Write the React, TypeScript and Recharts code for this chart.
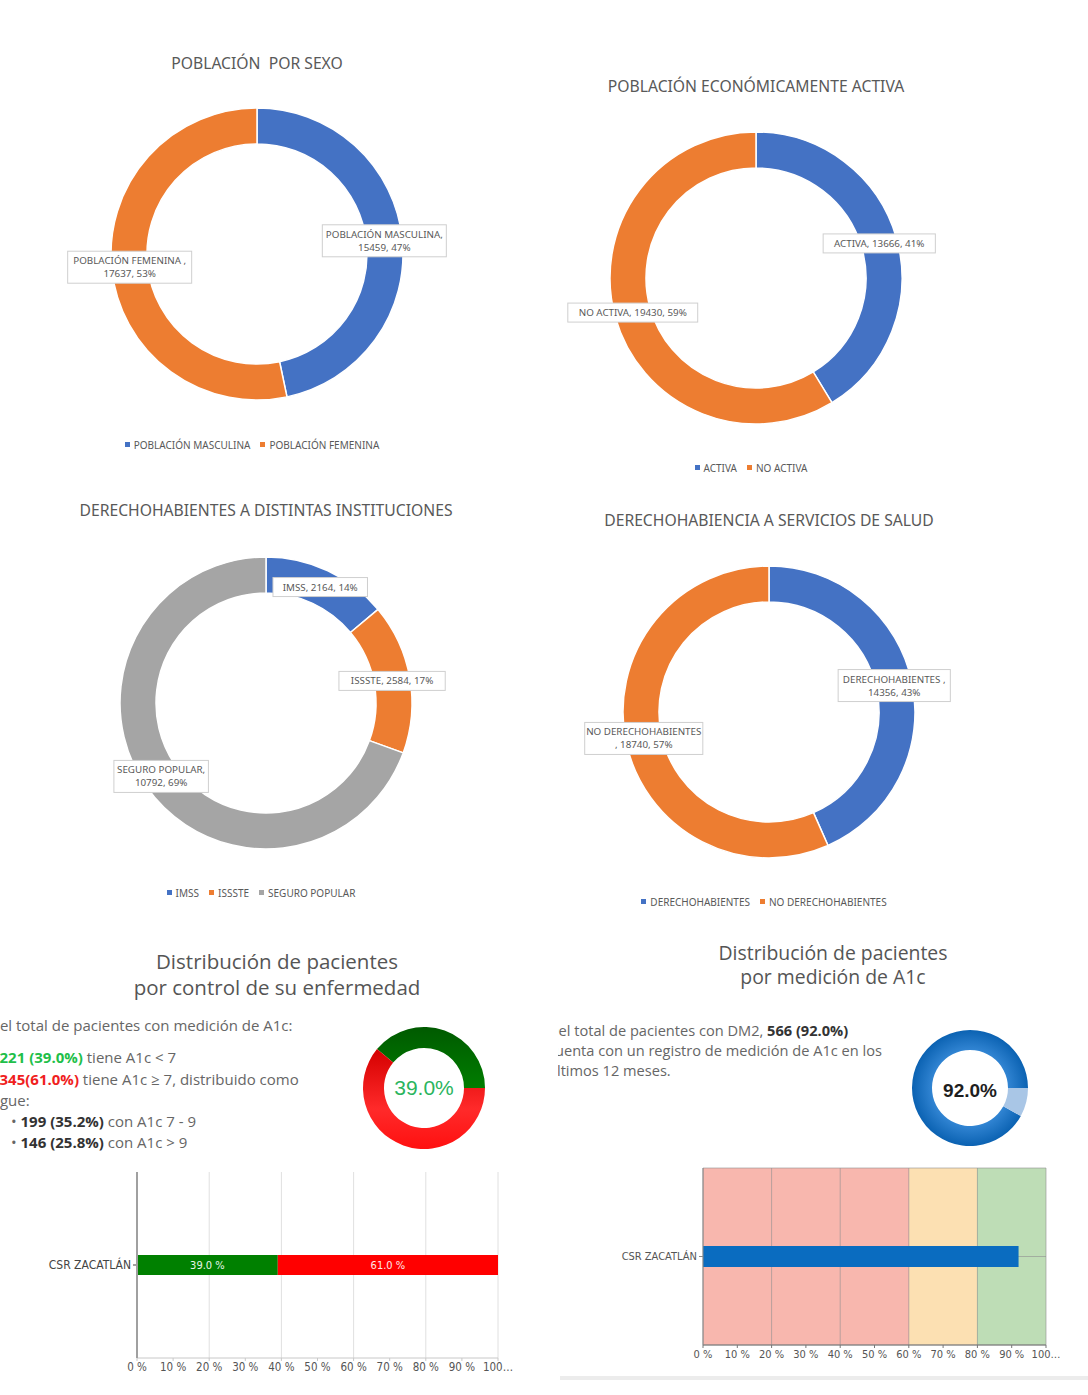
import React from 'react';
import {
  PieChart,
  Pie,
  Cell,
  Legend,
  Label,
  BarChart,
  Bar,
  XAxis,
  YAxis,
  CartesianGrid,
  LabelList,
} from 'recharts';

// --- data ---
const sexNames = ['POBLACIÓN MASCULINA', 'POBLACIÓN FEMENINA'];
const sexValues = [15459, 17637];
const sexLabels = [['POBLACIÓN MASCULINA,', '15459, 47%'], ['POBLACIÓN FEMENINA ,', '17637, 53%']];

const peaNames = ['ACTIVA', 'NO ACTIVA'];
const peaValues = [13666, 19430];
const peaLabels = [['ACTIVA, 13666, 41%'], ['NO ACTIVA, 19430, 59%']];

const instNames = ['IMSS', 'ISSSTE', 'SEGURO POPULAR'];
const instValues = [2164, 2584, 10792];
const instLabels = [['IMSS, 2164, 14%'], ['ISSSTE, 2584, 17%'], ['SEGURO POPULAR,', '10792, 69%']];

const derNames = ['DERECHOHABIENTES', 'NO DERECHOHABIENTES'];
const derValues = [14356, 18740];
const derLabels = [['DERECHOHABIENTES ,', '14356, 43%'], ['NO DERECHOHABIENTES', ', 18740, 57%']];

const unitNames = ['CSR ZACATLÁN'];
const controlled = [39.0];
const uncontrolled = [61.0];
const controlNames = ['A1c < 7', 'A1c ≥ 7'];
const controlShare = [39.0, 61.0];
const measured = [92.0];
const measureNames = ['Con medición', 'Sin medición'];
const measureShare = [92.0, 8.0];

const pctTicks = [0, 10, 20, 30, 40, 50, 60, 70, 80, 90, 100];
const gridTicks = [0, 20, 40, 60, 80, 100];
const bandEdges = [0, 60, 80, 100];

const OFFICE = ['#4472C4', '#ED7D31', '#A5A5A5'];
const BANDS = ['#F8B7AE', '#FCE0B2', '#BEDDB6'];
const RAD = Math.PI / 180;
const GRAY = '#595959';
const EXCEL_FONT = "'Noto Sans', 'Open Sans', sans-serif";
const WEB_FONT = "'Open Sans', 'Noto Sans', sans-serif";
const AXIS_FONT = "'Liberation Sans Narrow', 'DejaVu Sans Condensed', Roboto, sans-serif";
const NO_MARGIN = { top: 0, right: 0, bottom: 0, left: 0 };

const toRows = (names: string[], values: number[]) => names.map((name, i) => ({ name, value: values[i] }));

// colour of each 20% stripe, taken from the band it falls in
const stripeFills = gridTicks.slice(0, -1).map(t => {
  const b = bandEdges.findIndex((e, i) => t >= e && t < bandEdges[i + 1]);
  return BANDS[b];
});

const boxLabel = (lines: string[][]) => (props: any) => {
  const { cx, cy, midAngle, innerRadius, outerRadius, index } = props;
  const r = (innerRadius + outerRadius) / 2;
  const x = cx + r * Math.cos(-midAngle * RAD);
  const y = cy + r * Math.sin(-midAngle * RAD);
  const ls = lines[index];
  const w = Math.max(...ls.map(l => l.length)) * 5.9 + 6;
  const h = ls.length * 13 + 6;
  return (
    <g key={`lbl-${index}`}>
      <rect x={x - w / 2} y={y - h / 2} width={w} height={h} fill="#fff" stroke="#cfcfcf" />
      {ls.map((l, i) => (
        <text key={i} x={x} y={y - h / 2 + 13 + i * 13} textAnchor="middle" fontSize={9.8} fill={GRAY} fontFamily={EXCEL_FONT}>
          {l}
        </text>
      ))}
    </g>
  );
};

interface DonutProps {
  cx: number;
  cy: number;
  title: string;
  titleY: number;
  legendY: number;
  names: string[];
  values: number[];
  labels: string[][];
}

function ExcelDonut({ cx, cy, title, titleY, legendY, names, values, labels }: DonutProps) {
  const data = toRows(names, values);
  const top = cy - 230;
  return (
    <>
      <div
        style={{
          position: 'absolute', left: cx - 300, width: 600, top: titleY - 11, textAlign: 'center',
          fontFamily: EXCEL_FONT, fontSize: 15.7, color: GRAY, whiteSpace: 'pre', lineHeight: '22px',
        }}
      >
        {title}
      </div>
      <div style={{ position: 'absolute', left: cx - 260, top }}>
        <PieChart width={520} height={470} margin={NO_MARGIN}>
          <Pie
            data={data}
            dataKey="value"
            nameKey="name"
            cx={260}
            cy={230}
            innerRadius={110}
            outerRadius={146}
            startAngle={90}
            endAngle={-270}
            stroke="#fff"
            strokeWidth={1.5}
            label={boxLabel(labels)}
            labelLine={false}
            isAnimationActive={false}
          >
            {data.map((d, i) => (
              <Cell key={d.name} fill={OFFICE[i % OFFICE.length]} />
            ))}
          </Pie>
          <Legend
            iconType="square"
            iconSize={5}
            itemSorter={(item: any) => names.indexOf(item.value)}
            wrapperStyle={{ top: legendY - top - 12, left: 0, width: 520, fontFamily: EXCEL_FONT }}
            formatter={(v: any) => <span style={{ color: GRAY, fontSize: 10 }}>{v}</span>}
          />
        </PieChart>
      </div>
    </>
  );
}

const tickPct = (v: number) => (v === 100 ? '100…' : `${v} %`);

function TitleLines({ lines, cx, firstY, step, size }: { lines: string[]; cx: number; firstY: number; step: number; size: number }) {
  return (
    <>
      {lines.map((t, i) => (
        <div
          key={t}
          style={{
            position: 'absolute', left: cx - 280, width: 560, top: firstY + i * step - step / 2, height: step, textAlign: 'center',
            fontFamily: WEB_FONT, fontSize: size, color: '#555', lineHeight: `${step}px`, whiteSpace: 'nowrap',
          }}
        >
          {t}
        </div>
      ))}
    </>
  );
}

function ControlPanel() {
  const gauge = toRows(controlNames, controlShare);
  const bars = unitNames.map((name, i) => ({ name, ok: controlled[i], bad: uncontrolled[i] }));
  const line = { position: 'absolute' as const, left: -11, whiteSpace: 'nowrap' as const };
  return (
    <>
      <TitleLines lines={['Distribución de pacientes', 'por control de su enfermedad']} cx={277} firstY={961} step={26} size={20.5} />
      <div style={{ position: 'absolute', left: 0, top: 1014, width: 350, height: 142, overflow: 'hidden', fontFamily: WEB_FONT, fontSize: 15, color: '#666' }}>
        <div style={{ ...line, top: 1 }}>Del total de pacientes con medición de A1c:</div>
        <div style={{ ...line, top: 33, left: -10 }}>
          • <b style={{ color: '#1fbf4a' }}>221 (39.0%)</b> tiene A1c &lt; 7
        </div>
        <div style={{ ...line, top: 55, left: -10 }}>
          • <b style={{ color: '#f01e1e' }}>345(61.0%)</b> tiene A1c ≥ 7, distribuido como
        </div>
        <div style={{ ...line, top: 76 }}>sigue:</div>
        <div style={{ ...line, top: 97, left: 11 }}>
          • <b style={{ color: '#333' }}>199 (35.2%)</b> con A1c 7 - 9
        </div>
        <div style={{ ...line, top: 118, left: 11 }}>
          • <b style={{ color: '#333' }}>146 (25.8%)</b> con A1c &gt; 9
        </div>
      </div>
      <div style={{ position: 'absolute', left: 354, top: 1018 }}>
        <PieChart width={140} height={140} margin={NO_MARGIN}>
          <defs>
            <linearGradient id="gGreen" x1="0" y1="0" x2="0" y2="1">
              <stop offset="0%" stopColor="#005a00" />
              <stop offset="100%" stopColor="#007d00" />
            </linearGradient>
            <linearGradient id="gRed" x1="0" y1="0" x2="0" y2="1">
              <stop offset="0%" stopColor="#d40000" />
              <stop offset="60%" stopColor="#ff2a2a" />
              <stop offset="100%" stopColor="#ff1010" />
            </linearGradient>
          </defs>
          <Pie
            data={gauge}
            dataKey="value"
            nameKey="name"
            cx={70}
            cy={70}
            innerRadius={40}
            outerRadius={61}
            startAngle={0}
            endAngle={360}
            stroke="none"
            isAnimationActive={false}
          >
            <Cell fill="url(#gGreen)" />
            <Cell fill="url(#gRed)" />
            <Label value="39.0%" position="center" fill="#2bb55e" fontSize={21} fontFamily="'Liberation Sans', Arial, sans-serif" />
          </Pie>
        </PieChart>
      </div>
      <div style={{ position: 'absolute', left: 0, top: 1160 }}>
        <BarChart layout="vertical" width={540} height={225} data={bars} margin={{ top: 12, right: 42, bottom: 7, left: 0 }} barSize={20}>
          <CartesianGrid horizontal={false} verticalValues={gridTicks} stroke="#e0e0e0" />
          <XAxis
            type="number"
            domain={[0, 100]}
            ticks={pctTicks}
            tickFormatter={tickPct}
            height={20}
            tick={{ fontSize: 11.5, fill: '#555', fontFamily: AXIS_FONT }}
            tickSize={3}
            stroke="#c8c8c8"
            interval={0}
          />
          <YAxis
            type="category"
            dataKey="name"
            width={137}
            tick={{ fontSize: 12, fill: '#444', fontFamily: AXIS_FONT }}
            tickSize={4}
            stroke="#a0a0a0"
            strokeWidth={2}
          />
          <Bar dataKey="ok" stackId="a" fill="#008000" isAnimationActive={false}>
            <LabelList dataKey="ok" position="center" fill="#e8f5e8" fontSize={11} fontFamily={AXIS_FONT} formatter={(v: any) => `${Number(v).toFixed(1)} %`} />
          </Bar>
          <Bar dataKey="bad" stackId="a" fill="#ff0000" isAnimationActive={false}>
            <LabelList dataKey="bad" position="center" fill="#ffe8e8" fontSize={11} fontFamily={AXIS_FONT} formatter={(v: any) => `${Number(v).toFixed(1)} %`} />
          </Bar>
        </BarChart>
      </div>
    </>
  );
}

function MeasurePanel() {
  const gauge = toRows(measureNames, measureShare);
  const bars = unitNames.map((name, i) => ({ name, value: measured[i] }));
  const line = { position: 'absolute' as const, left: -10, whiteSpace: 'nowrap' as const };
  return (
    <>
      <TitleLines lines={['Distribución de pacientes', 'por medición de A1c']} cx={833} firstY={953} step={24} size={19.4} />
      <div style={{ position: 'absolute', left: 558, top: 1019, width: 340, height: 66, overflow: 'hidden', fontFamily: WEB_FONT, fontSize: 14.6, color: '#666' }}>
        <div style={{ ...line, top: 1 }}>
          Del total de pacientes con DM2, <b style={{ color: '#333' }}>566 (92.0%)</b>
        </div>
        <div style={{ ...line, top: 21 }}>cuenta con un registro de medición de A1c en los</div>
        <div style={{ ...line, top: 41 }}>últimos 12 meses.</div>
      </div>
      <div style={{ position: 'absolute', left: 900, top: 1020 }}>
        <PieChart width={140} height={140} margin={NO_MARGIN}>
          <defs>
            <radialGradient id="gBlue" cx="50%" cy="50%" r="50%">
              <stop offset="62%" stopColor="#3588d6" />
              <stop offset="100%" stopColor="#0b62b2" />
            </radialGradient>
          </defs>
          <Pie
            data={gauge}
            dataKey="value"
            nameKey="name"
            cx={70}
            cy={68}
            innerRadius={38}
            outerRadius={58}
            startAngle={0}
            endAngle={360}
            stroke="none"
            isAnimationActive={false}
          >
            <Cell fill="url(#gBlue)" />
            <Cell fill="#a9c6e6" />
            <Label value="92.0%" position="center" fill="#1e1e1e" fontSize={19} fontWeight={600} fontFamily="'Liberation Sans', Arial, sans-serif" />
          </Pie>
        </PieChart>
      </div>
      <div style={{ position: 'absolute', left: 540, top: 1150 }}>
        <BarChart layout="vertical" width={548} height={220} data={bars} margin={{ top: 18, right: 42, bottom: 5, left: 0 }} barSize={21}>
          <CartesianGrid
            verticalValues={gridTicks}
            verticalFill={stripeFills}
            fillOpacity={1}
            stroke="#8f8f8f"
            strokeOpacity={0.6}
          />
          <XAxis
            type="number"
            domain={[0, 100]}
            ticks={pctTicks}
            tickFormatter={tickPct}
            height={20}
            tick={{ fontSize: 11, fill: '#555', fontFamily: AXIS_FONT }}
            tickSize={3}
            stroke="#777"
            interval={0}
          />
          <YAxis
            type="category"
            dataKey="name"
            width={163}
            tick={{ fontSize: 11, fill: '#555', fontFamily: AXIS_FONT }}
            tickSize={4}
            stroke="#888"
          />
          <Bar dataKey="value" fill="#0a6cc0" isAnimationActive={false} />
        </BarChart>
      </div>
      <div style={{ position: 'absolute', left: 560, top: 1376, width: 528, height: 4, background: '#ececec' }} />
    </>
  );
}

export default function App() {
  return (
    <div style={{ position: 'absolute', left: 0, top: 0, width: 1088, height: 1395, background: '#fff', overflow: 'hidden' }}>
      <ExcelDonut cx={257} cy={254} title="POBLACIÓN  POR SEXO" titleY={63} legendY={444} names={sexNames} values={sexValues} labels={sexLabels} />
      <ExcelDonut cx={756} cy={278} title="POBLACIÓN ECONÓMICAMENTE ACTIVA" titleY={86} legendY={467} names={peaNames} values={peaValues} labels={peaLabels} />
      <ExcelDonut cx={266} cy={703} title="DERECHOHABIENTES A DISTINTAS INSTITUCIONES" titleY={510} legendY={892} names={instNames} values={instValues} labels={instLabels} />
      <ExcelDonut cx={769} cy={712} title="DERECHOHABIENCIA A SERVICIOS DE SALUD" titleY={520} legendY={901} names={derNames} values={derValues} labels={derLabels} />
      <ControlPanel />
      <MeasurePanel />
    </div>
  );
}
